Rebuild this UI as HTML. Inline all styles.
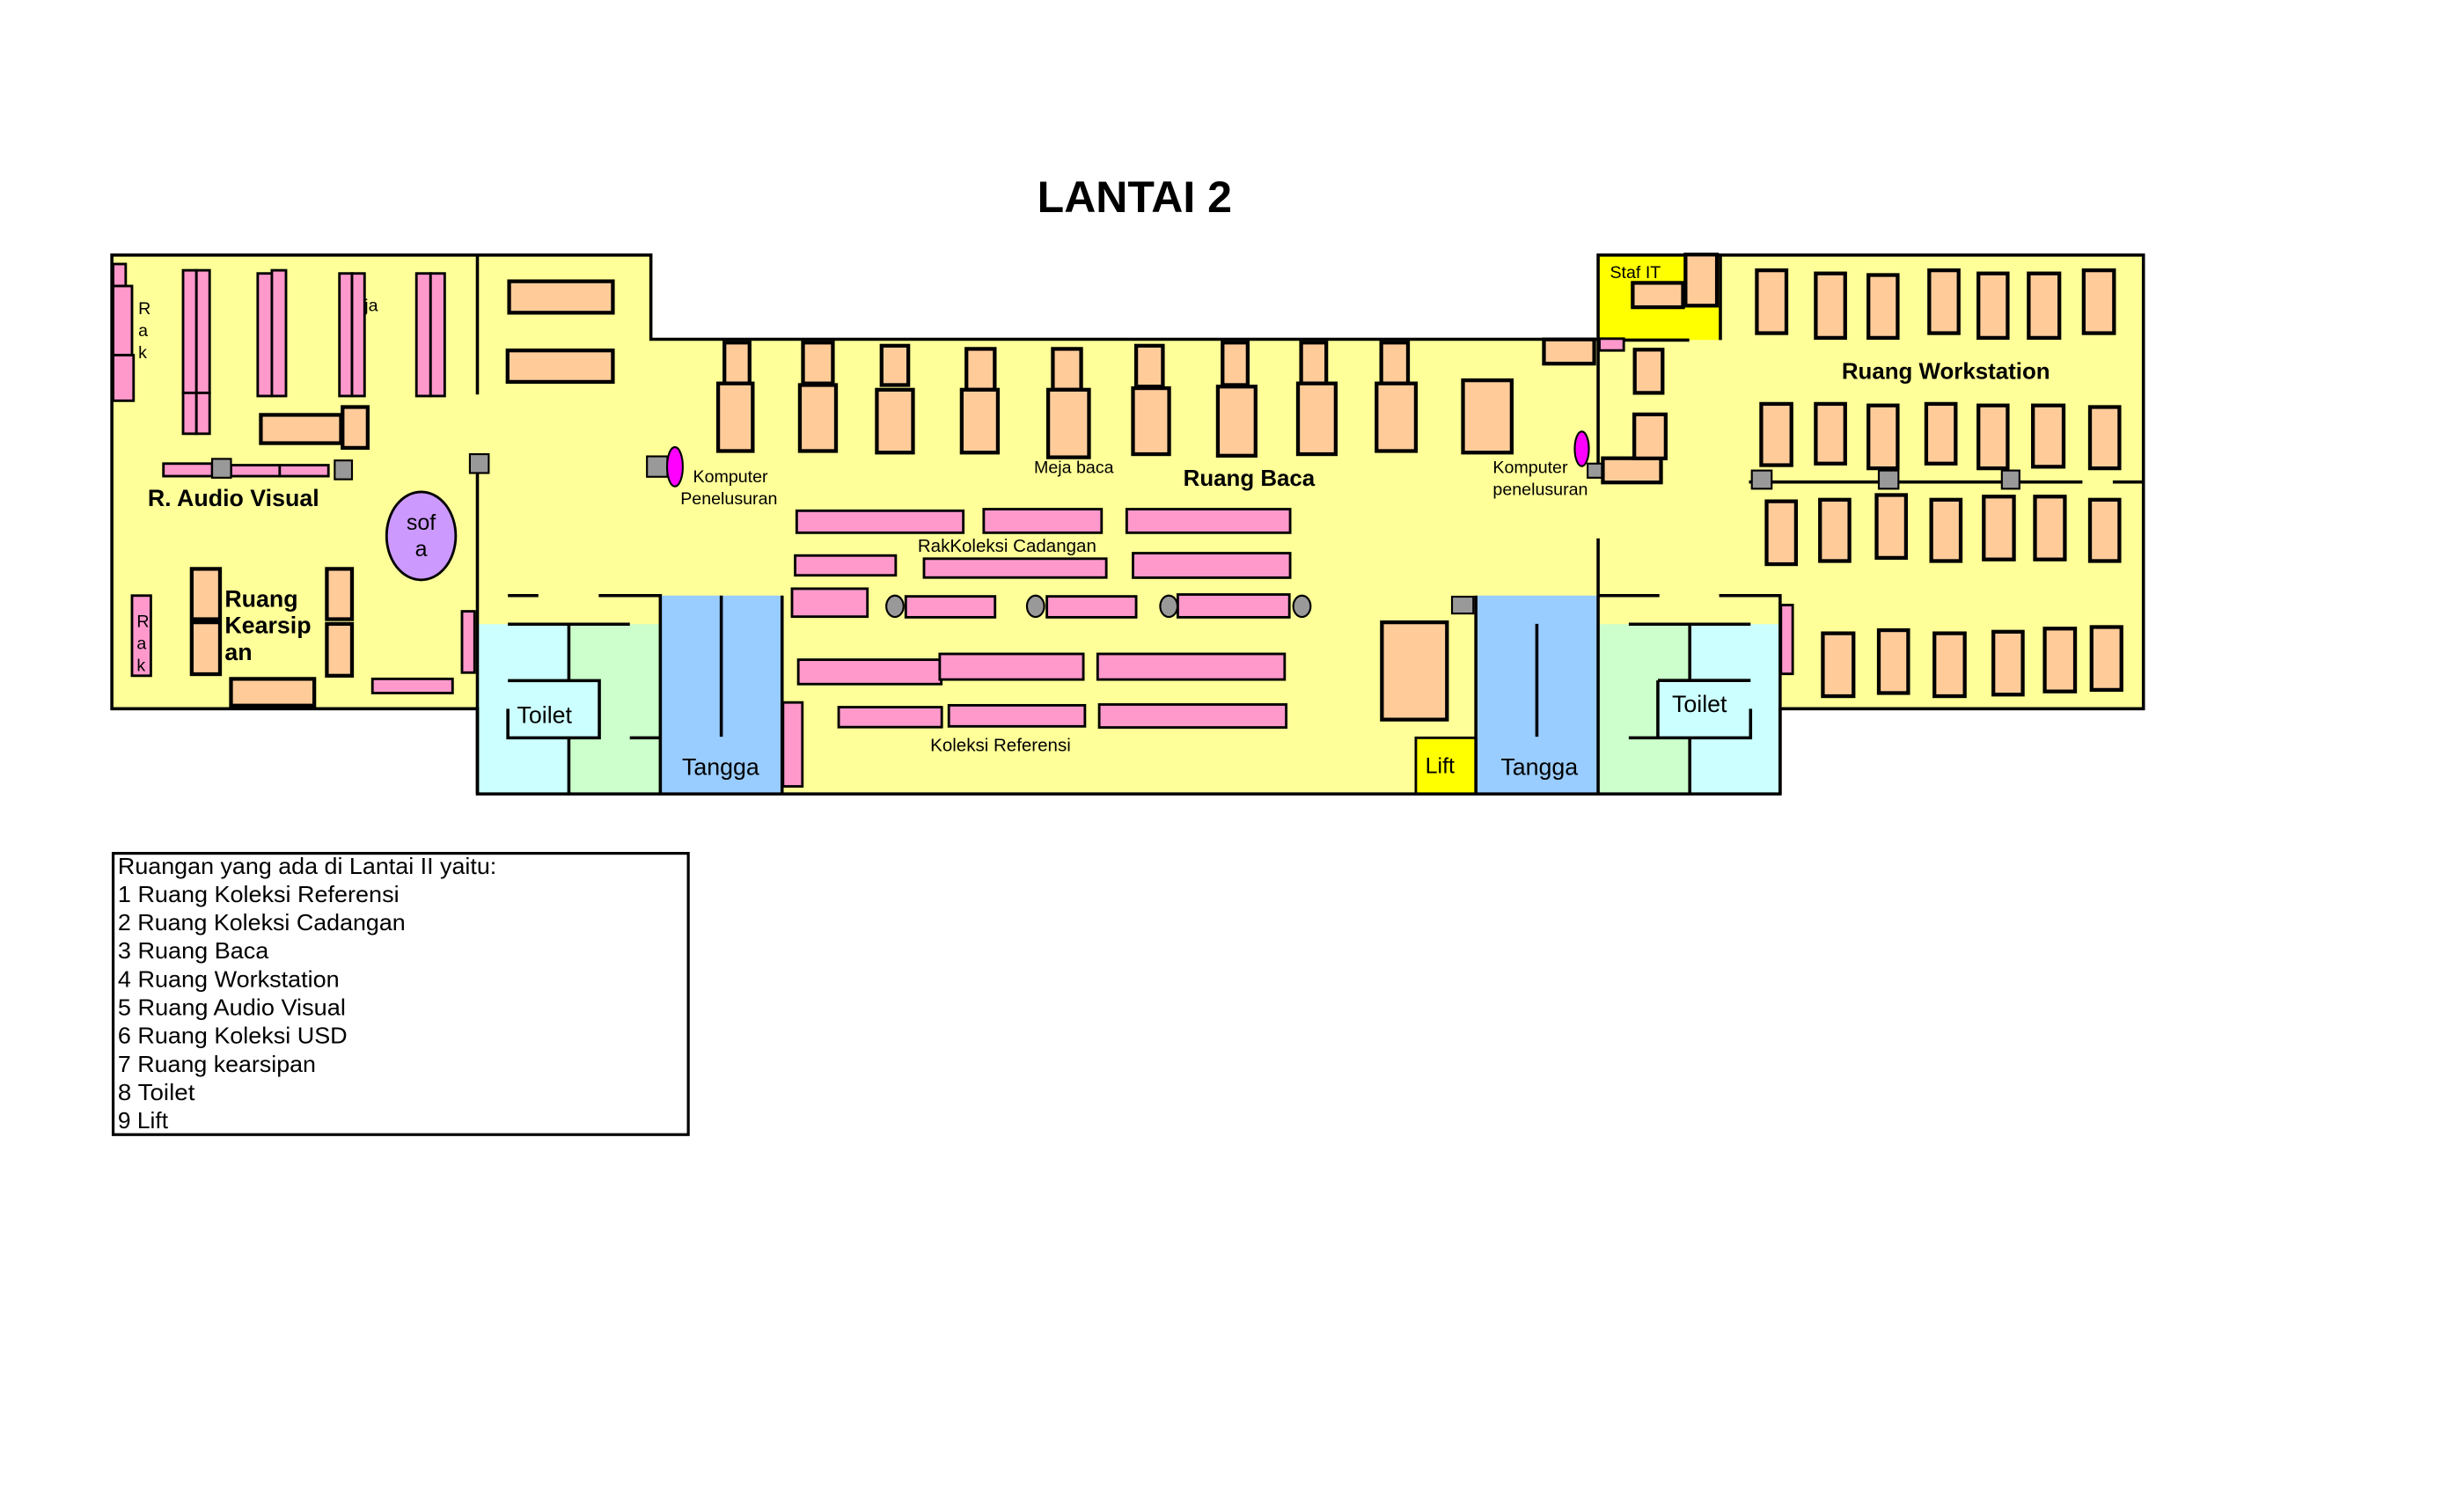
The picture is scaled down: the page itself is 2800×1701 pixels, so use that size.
<!DOCTYPE html>
<html><head><meta charset="utf-8"><style>
html,body{margin:0;padding:0;background:#fff}
svg{display:block}
text{font-family:"Liberation Sans",Arial,sans-serif}
.t{fill:#FFCC99;stroke:#000;stroke-width:2.4}
.p{fill:#FF99CC;stroke:#000;stroke-width:1.6}
.g{fill:#999;stroke:#000;stroke-width:1.2}
.w{stroke:#000;stroke-width:2;fill:none}
</style></head><body>
<svg width="2800" height="1701" viewBox="0 0 1568 952.6" preserveAspectRatio="none" xmlns="http://www.w3.org/2000/svg">
<rect x="0" y="0" width="1568" height="952.6" fill="#fff"/>
<text x="722" y="135" font-size="28" font-weight="bold" text-anchor="middle">LANTAI 2</text>

<path d="M71.2 162.3 H414.2 V215.9 H1017 V162.3 H1364 V451 H1132.8 V505.2 H303.8 V451 H71.2 Z" fill="#FFFF99"/>
<rect x="1017" y="162.3" width="77.8" height="54" fill="#FFFF00"/>
<rect x="303.8" y="397.2" width="58.2" height="108" fill="#CCFFFF"/>
<rect x="362" y="397.2" width="58.2" height="108" fill="#CCFFCC"/>
<rect x="420.2" y="379" width="77.5" height="126.2" fill="#99CCFF"/>
<rect x="939.2" y="379" width="77.8" height="126.2" fill="#99CCFF"/>
<rect x="1017" y="397.2" width="58.3" height="108" fill="#CCFFCC"/>
<rect x="1075.3" y="397.2" width="57.5" height="108" fill="#CCFFFF"/>
<rect x="1055" y="433" width="59" height="36.5" fill="#CCFFFF"/>
<rect x="323.2" y="433.1" width="58.2" height="36.4" fill="#CCFFFF"/>
<rect x="901" y="469.5" width="38.2" height="35.7" fill="#FFFF00" stroke="#000" stroke-width="1.6"/>

<path class="w" d="M71.2 162.3 H414.2 V215.9 H1017 V162.3 H1364 V451 H1132.8 V505.2 H303.8 V451 H71.2 Z"/>
<path class="w" d="M303.8 162.3 V251 M303.8 298 V505.2"/>
<path class="w" d="M323.2 379 H342.6 M381 379 H420.2 V505.2 M497.7 379 V505.2"/>
<path class="w" d="M323.2 397.2 H400.8 M362 397.2 V433.1 M323.2 433.1 H381.4 V469.5 H323.2 V451 M362 469.5 V505.2 M400.8 469.5 H420.2"/>
<path class="w" d="M459 379 V468.8 M978 397 V468.8"/>
<path class="w" d="M939.2 379 V505.2 M1017 215.9 V301 M1017 342.6 V505.2 M1017 379 H1056 M1094 379 H1132.8 V505.2"/>
<path class="w" d="M1036.5 397.2 H1114 M1075.3 397.2 V433 M1055 433 H1114 M1055 433 V469.5 M1036.5 469.5 H1114 V451 M1075.3 469.5 V505.2"/>
<path class="w" d="M1017 216.4 H1075 M1094.8 162.3 V216.4"/>
<path class="w" d="M1113 306.7 H1325.2 M1344.5 306.7 H1364"/>

<rect class="p" x="72" y="168" width="8" height="14"/>
<rect class="p" x="72" y="182" width="12" height="44"/>
<rect class="p" x="72" y="226" width="13" height="29"/>
<text x="88" y="200" font-size="11">R</text><text x="88" y="214" font-size="11">a</text><text x="88" y="228" font-size="11">k</text>
<rect class="p" x="116.5" y="172" width="8.5" height="78"/><rect class="p" x="125" y="172" width="8.4" height="78"/>
<rect class="p" x="116.5" y="250" width="8.5" height="26"/><rect class="p" x="125" y="250" width="8.4" height="26"/>
<rect class="p" x="164" y="174" width="9" height="78"/><rect class="p" x="173" y="172" width="9" height="80"/>
<rect class="p" x="216" y="174" width="8" height="78"/><rect class="p" x="224" y="174" width="8" height="78"/>
<text x="232" y="198" font-size="11">ja</text>
<rect class="p" x="265" y="174" width="9" height="78"/><rect class="p" x="274" y="174" width="9" height="78"/>
<rect class="t" x="166" y="264" width="51" height="18"/>
<rect class="t" x="218" y="259" width="16" height="26"/>
<rect class="p" x="104" y="295" width="31" height="8"/>
<rect class="p" x="147" y="296" width="31" height="7"/><rect class="p" x="178" y="296" width="31" height="7"/>
<rect class="g" x="135" y="292" width="12" height="12"/>
<rect class="g" x="213" y="293" width="11" height="12"/>
<rect class="g" x="299" y="289" width="12" height="12"/>
<text x="94" y="322" font-size="15" font-weight="bold">R. Audio Visual</text>
<ellipse cx="268" cy="341" rx="22" ry="28" fill="#CC99FF" stroke="#000" stroke-width="1.6"/>
<text x="268" y="337" font-size="14" text-anchor="middle">sof</text>
<text x="268" y="354" font-size="14" text-anchor="middle">a</text>
<rect class="p" x="84" y="379" width="12" height="51"/>
<text x="87" y="399" font-size="11">R</text><text x="87" y="413" font-size="11">a</text><text x="87" y="427" font-size="11">k</text>
<rect class="t" x="122" y="362" width="18" height="32"/><rect class="t" x="122" y="396" width="18" height="33"/>
<text x="143" y="386" font-size="15" font-weight="bold">Ruang</text>
<text x="143" y="403" font-size="15" font-weight="bold">Kearsip</text>
<text x="143" y="420" font-size="15" font-weight="bold">an</text>
<rect class="t" x="208" y="362" width="16" height="32"/><rect class="t" x="208" y="397" width="16" height="33"/>
<rect class="t" x="147" y="432" width="53" height="17"/>
<rect class="p" x="237" y="432" width="51" height="9"/>
<rect class="p" x="294" y="389" width="8" height="39"/>

<rect class="t" x="324" y="179" width="66" height="20"/>
<rect class="t" x="323" y="223" width="67" height="20"/>

<g>
<rect class="t" x="461" y="218" width="16" height="26"/><rect class="t" x="457" y="244" width="22" height="43"/>
<rect class="t" x="511" y="218" width="19" height="26"/><rect class="t" x="509" y="245" width="23" height="42"/>
<rect class="t" x="561" y="220" width="17" height="25"/><rect class="t" x="558" y="248" width="23" height="40"/>
<rect class="t" x="615" y="222" width="18" height="26"/><rect class="t" x="612" y="248" width="23" height="40"/>
<rect class="t" x="670" y="222" width="18" height="26"/><rect class="t" x="667" y="248" width="26" height="43"/>
<rect class="t" x="723" y="220" width="17" height="26"/><rect class="t" x="721" y="247" width="23" height="42"/>
<rect class="t" x="778" y="218" width="16" height="27"/><rect class="t" x="775" y="246" width="24" height="44"/>
<rect class="t" x="828" y="218" width="16" height="26"/><rect class="t" x="826" y="244" width="24" height="45"/>
<rect class="t" x="879" y="218" width="17" height="26"/><rect class="t" x="876" y="244" width="25" height="43"/>
<rect class="t" x="931" y="242" width="31" height="46"/>
</g>
<rect class="g" x="411.7" y="290.4" width="13" height="13"/>
<ellipse cx="429.5" cy="297" rx="5" ry="12.5" fill="#FF00FF" stroke="#000" stroke-width="1.2"/>
<text x="441" y="307" font-size="11">Komputer</text>
<text x="433" y="321" font-size="11">Penelusuran</text>
<text x="658" y="301" font-size="11">Meja baca</text>
<text x="753" y="309" font-size="14.5" font-weight="bold">Ruang Baca</text>
<text x="950" y="301" font-size="11">Komputer</text>
<text x="950" y="315" font-size="11">penelusuran</text>
<ellipse cx="1006.6" cy="285.6" rx="4.5" ry="11" fill="#FF00FF" stroke="#000" stroke-width="1.2"/>
<rect class="g" x="1010.3" y="295" width="10.7" height="9"/>
<rect class="t" x="1020" y="291.6" width="37" height="15.4"/>
<rect class="t" x="982.5" y="216" width="32" height="15.4"/>
<rect class="p" x="1017.8" y="215.5" width="15.5" height="7.5"/>
<rect class="t" x="1040.3" y="222.5" width="17.7" height="27.5"/>
<rect class="t" x="1040" y="263.7" width="20" height="28"/>

<text x="1024.5" y="177" font-size="11">Staf IT</text>
<rect class="t" x="1039" y="180" width="32" height="15.5" stroke-width="3"/>
<rect class="t" x="1072.6" y="162" width="20" height="32.5"/>

<rect class="p" x="507" y="325" width="106" height="14"/>
<rect class="p" x="626" y="324" width="75" height="15"/>
<rect class="p" x="717" y="324" width="104" height="15"/>
<text x="584" y="351" font-size="11.5">RakKoleksi Cadangan</text>
<rect class="p" x="506" y="353.5" width="64" height="12.6"/>
<rect class="p" x="588" y="355.5" width="116" height="12"/>
<rect class="p" x="721" y="352" width="100" height="15.6"/>
<rect class="p" x="504" y="374.6" width="48" height="17.8"/>
<rect class="p" x="576.4" y="379.5" width="56.8" height="13.3"/>
<rect class="p" x="666.2" y="379.5" width="56.8" height="13.3"/>
<rect class="p" x="749.5" y="378.3" width="71" height="14.5"/>
<ellipse class="g" cx="569.5" cy="385.8" rx="5.5" ry="6.8"/>
<ellipse class="g" cx="659" cy="385.8" rx="5.5" ry="6.8"/>
<ellipse class="g" cx="743.8" cy="385.8" rx="5.5" ry="6.8"/>
<ellipse class="g" cx="828.5" cy="385.8" rx="5.5" ry="6.8"/>
<rect class="p" x="508" y="419.8" width="91" height="15.5"/>
<rect class="p" x="598" y="416.1" width="91.4" height="16.3"/>
<rect class="p" x="698.5" y="416.1" width="119" height="16.3"/>
<rect class="p" x="533.7" y="450" width="65.6" height="12.7"/>
<rect class="p" x="603.8" y="448.8" width="86.6" height="13.4"/>
<rect class="p" x="699.5" y="448.3" width="119" height="14.6"/>
<rect class="p" x="498.3" y="447" width="12.3" height="53.4"/>
<text x="592" y="478" font-size="11.5">Koleksi Referensi</text>

<rect class="t" x="879.4" y="396" width="41.4" height="61.9"/>
<rect class="g" x="924" y="379.7" width="13.6" height="10.7"/>

<text x="329" y="460" font-size="15">Toilet</text>
<text x="434" y="493" font-size="15">Tangga</text>
<text x="955" y="493" font-size="15">Tangga</text>
<text x="907" y="492" font-size="14">Lift</text>
<text x="1064" y="453" font-size="15">Toilet</text>

<text x="1172" y="241" font-size="14.5" font-weight="bold">Ruang Workstation</text>
<g>
<rect class="t" x="1118" y="172" width="18.8" height="40"/>
<rect class="t" x="1155.5" y="174" width="18.7" height="41"/>
<rect class="t" x="1189" y="175" width="18.6" height="40"/>
<rect class="t" x="1227.7" y="172" width="18.7" height="40"/>
<rect class="t" x="1259" y="174" width="18.6" height="41"/>
<rect class="t" x="1291" y="174" width="19.5" height="41"/>
<rect class="t" x="1326" y="172" width="19.3" height="40"/>

<rect class="t" x="1120.8" y="257" width="19.2" height="39"/>
<rect class="t" x="1155.5" y="257" width="18.7" height="38"/>
<rect class="t" x="1189" y="258" width="18.6" height="40"/>
<rect class="t" x="1225.8" y="257" width="18.7" height="38"/>
<rect class="t" x="1259" y="258" width="18.6" height="40"/>
<rect class="t" x="1293.7" y="258" width="19.5" height="39"/>
<rect class="t" x="1330" y="259" width="18.7" height="39"/>

<rect class="t" x="1124.2" y="319" width="18.7" height="40"/>
<rect class="t" x="1158.2" y="318" width="18.7" height="39"/>
<rect class="t" x="1194.2" y="315" width="18.7" height="40"/>
<rect class="t" x="1229" y="318" width="18.7" height="39"/>
<rect class="t" x="1262.4" y="316" width="19.2" height="40"/>
<rect class="t" x="1295" y="316" width="19" height="40"/>
<rect class="t" x="1330" y="318" width="18.7" height="39"/>

<rect class="t" x="1160" y="403" width="19.5" height="40"/>
<rect class="t" x="1195.6" y="401" width="18.7" height="40"/>
<rect class="t" x="1231" y="403" width="19.3" height="40"/>
<rect class="t" x="1268.5" y="402" width="18.7" height="40"/>
<rect class="t" x="1301.2" y="400" width="19.3" height="40"/>
<rect class="t" x="1331" y="399" width="19" height="40"/>
</g>
<rect class="g" x="1114.8" y="299.4" width="12.6" height="11.6"/>
<rect class="g" x="1195.6" y="299.4" width="12.5" height="11.6"/>
<rect class="g" x="1273.9" y="299.4" width="11.2" height="11.6"/>
<rect class="p" x="1133.3" y="385" width="7.5" height="43.8"/>

<rect x="72" y="543" width="366" height="179" fill="#fff" stroke="#000" stroke-width="1.8"/>
<g font-size="14.5">
<text x="75" y="556" textLength="241" lengthAdjust="spacingAndGlyphs">Ruangan yang ada di Lantai II yaitu:</text>
<text x="75" y="574" textLength="179" lengthAdjust="spacingAndGlyphs">1 Ruang Koleksi Referensi</text>
<text x="75" y="592" textLength="183" lengthAdjust="spacingAndGlyphs">2 Ruang Koleksi Cadangan</text>
<text x="75" y="610" textLength="96" lengthAdjust="spacingAndGlyphs">3 Ruang Baca</text>
<text x="75" y="628" textLength="141" lengthAdjust="spacingAndGlyphs">4 Ruang Workstation</text>
<text x="75" y="646" textLength="145" lengthAdjust="spacingAndGlyphs">5 Ruang Audio Visual</text>
<text x="75" y="664" textLength="146" lengthAdjust="spacingAndGlyphs">6 Ruang Koleksi USD</text>
<text x="75" y="682" textLength="126" lengthAdjust="spacingAndGlyphs">7 Ruang kearsipan</text>
<text x="75" y="700" textLength="49" lengthAdjust="spacingAndGlyphs">8 Toilet</text>
<text x="75" y="718" textLength="32" lengthAdjust="spacingAndGlyphs">9 Lift</text>
</g>
</svg>
</body></html>
